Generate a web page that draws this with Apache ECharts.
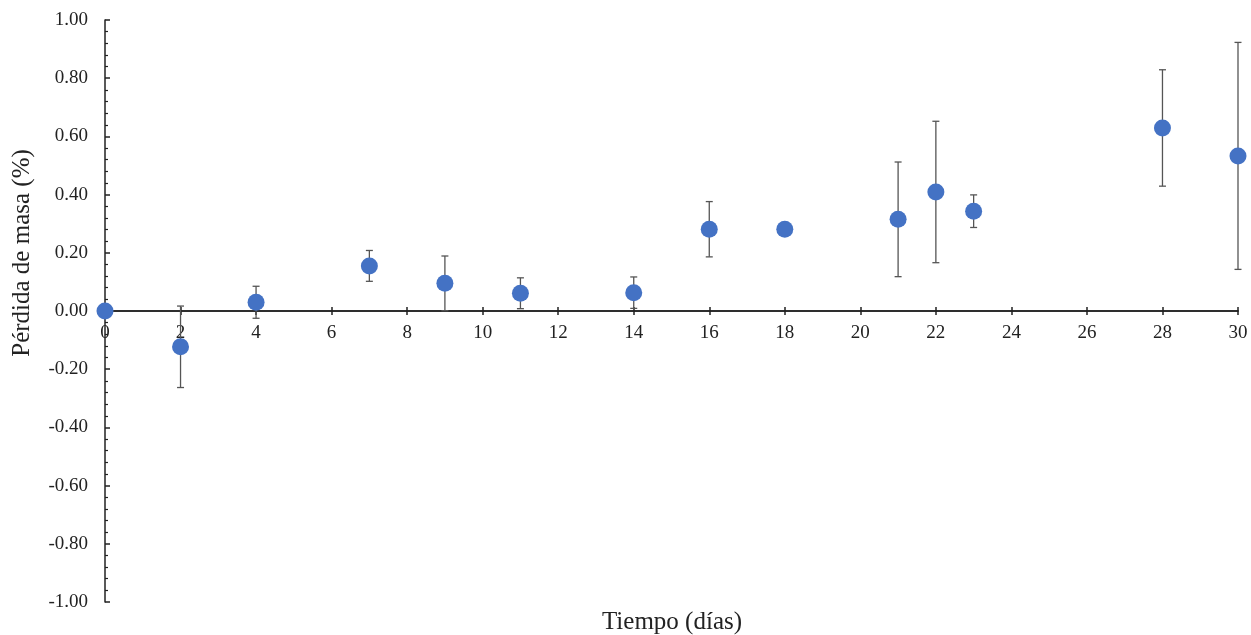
<!DOCTYPE html>
<html>
<head>
<meta charset="utf-8">
<script src="https://cdn.jsdelivr.net/npm/echarts@6/dist/echarts.min.js"></script>
<style>
    html, body { margin: 0; padding: 0; background: #fff; }
    #J_chart { width: 1251px; height: 635px; }
</style>
</head>
<body>
<div id="J_chart"></div>
<script>
const DAYS = [0, 2, 4, 7, 9, 11, 14, 16, 18, 21, 22, 23, 28, 30];
const LOSS = [0, -0.123, 0.030, 0.155, 0.095, 0.061, 0.063, 0.281, 0.281, 0.315, 0.409, 0.343, 0.629, 0.533];
const ERR = [0, 0.14, 0.055, 0.053, 0.094, 0.053, 0.054, 0.095, 0, 0.197, 0.243, 0.056, 0.2, 0.39];

const FONT = '"Liberation Serif", "DejaVu Serif", serif';
const INK = '#222';
const GRID_TOP = 20;
const GRID_BOTTOM = 33;
const HEIGHT = 635;

let points = DAYS.map((d, i) => [d, LOSS[i]]);
let bars = DAYS.map((d, i) => [d, LOSS[i] - ERR[i], LOSS[i] + ERR[i]]);

// barras de error con tapas
function renderErr(params, api) {
    let lo = api.coord([api.value(0), api.value(1)]);
    let hi = api.coord([api.value(0), api.value(2)]);
    if (Math.abs(lo[1] - hi[1]) < 1) return null;
    let style = { stroke: '#555', lineWidth: 1.3 };
    let cap = 3.5;
    return {
        type: 'group',
        children: [
            { type: 'line', shape: { x1: lo[0], y1: lo[1], x2: hi[0], y2: hi[1] }, style: style },
            { type: 'line', shape: { x1: lo[0] - cap, y1: lo[1], x2: lo[0] + cap, y2: lo[1] }, style: style },
            { type: 'line', shape: { x1: hi[0] - cap, y1: hi[1], x2: hi[0] + cap, y2: hi[1] }, style: style }
        ]
    };
}

// las etiquetas del eje x se quedan abajo en v6, las subo hasta la línea del cero
let plotH = HEIGHT - GRID_TOP - GRID_BOTTOM;
let labelMargin = 13 - plotH / 2;

let xBase = {
    type: 'value',
    min: 0,
    max: 30,
    interval: 2,
    splitLine: { show: false },
    axisTick: { show: true, inside: false, length: 4, lineStyle: { color: INK, width: 1.5 } }
};

let yBase = {
    type: 'value',
    min: -1,
    max: 1,
    interval: 0.2,
    splitLine: { show: false }
};

let options = {
    animation: false,
    grid: { left: 105, right: 13, top: GRID_TOP, bottom: GRID_BOTTOM, containLabel: false, outerBoundsMode: 'none' },
    xAxis: [
        Object.assign({}, xBase, {
            position: 'bottom',
            axisLine: { onZero: true, onZeroAxisIndex: 0, lineStyle: { color: INK, width: 1.5 } },
            axisLabel: { fontFamily: FONT, fontSize: 19, color: INK, margin: labelMargin }
        }),
        // segundo eje: marcas que cruzan hacia arriba
        Object.assign({}, xBase, {
            position: 'top',
            axisLine: { onZero: true, onZeroAxisIndex: 1, lineStyle: { color: INK, width: 1.5 } },
            axisLabel: { show: false }
        })
    ],
    yAxis: [
        Object.assign({}, yBase, {
            position: 'left',
            axisLine: { show: true, onZero: false, lineStyle: { color: INK, width: 1.5 } },
            axisTick: { show: true, inside: true, length: 5, lineStyle: { color: INK, width: 1.5 } },
            minorTick: { show: true, splitNumber: 5, length: 3, lineStyle: { color: INK, width: 1.2 } },
            axisLabel: {
                fontFamily: FONT, fontSize: 19, color: INK, margin: 17,
                formatter: v => v.toFixed(2)
            }
        }),
        Object.assign({}, yBase, {
            position: 'right',
            axisLine: { show: false, onZero: false },
            axisTick: { show: false },
            axisLabel: { show: false }
        })
    ],
    graphic: [{
        type: 'text',
        x: 672,
        y: 622,
        style: { text: 'Tiempo (días)', font: '25px ' + FONT, fill: INK, align: 'center', verticalAlign: 'middle' }
    }, {
        type: 'text',
        x: 22,
        y: 253,
        rotation: Math.PI / 2,
        style: { text: 'Pérdida de masa (%)', font: '25px ' + FONT, fill: INK, align: 'center', verticalAlign: 'middle' }
    }],
    series: [{
        type: 'custom',
        renderItem: renderErr,
        encode: { x: 0, y: [1, 2] },
        z: 1,
        data: bars
    }, {
        type: 'scatter',
        symbolSize: 17,
        itemStyle: { color: '#4472C4', opacity: 1 },
        z: 3,
        data: points
    }]
};

let chart = echarts.init(document.getElementById('J_chart'));
chart.setOption(options);
</script>
</body>
</html>
